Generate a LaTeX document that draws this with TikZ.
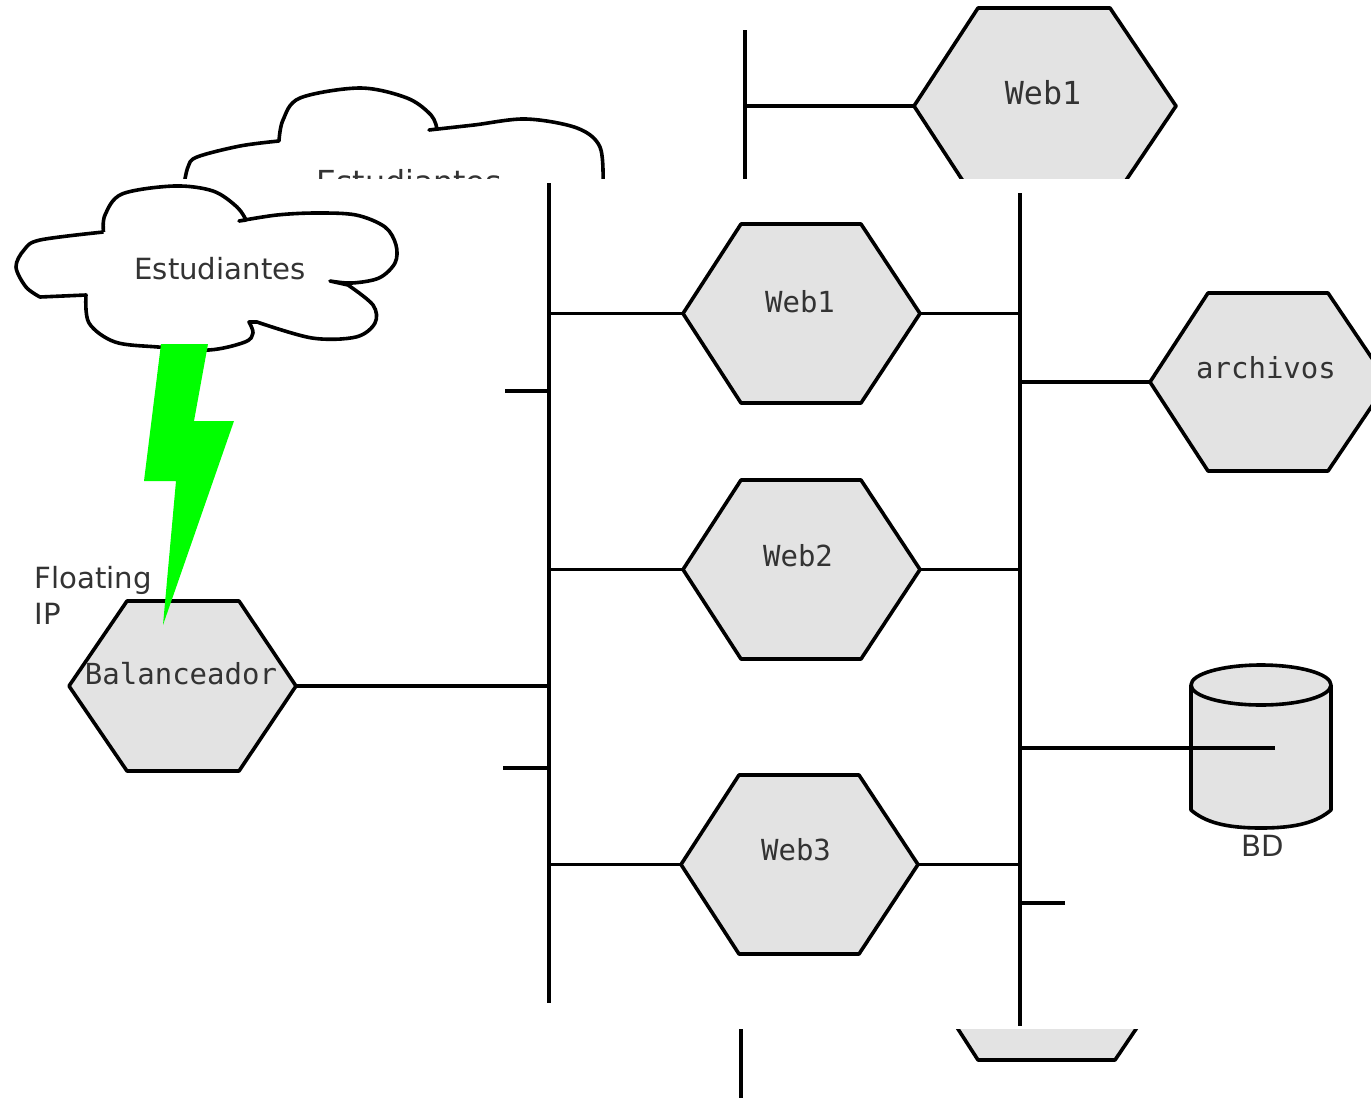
\documentclass[tikz,border=0pt]{standalone}
\usepackage{fontspec}
\setmainfont{DejaVu Sans}
\newfontfamily\monof{DejaVu Sans Mono}
\definecolor{hexgrey}{HTML}{E3E3E3}
\definecolor{txt}{HTML}{333333}
\tikzset{
  line/.style={line width=3.6pt,draw=black,line cap=butt,line join=miter},
  thin outline/.style={line width=3.6pt,draw=black,line join=round},
  shapefill/.style={line width=3.6pt,draw=black,fill=hexgrey,line join=round},
  label sans/.style={inner sep=0pt,text=txt,font=\fontsize{29.2}{36}\selectfont},
  label mono/.style={inner sep=0pt,text=txt,font=\monof\fontsize{29}{36}\selectfont},
}
% name, left vertex, flat left, flat right, right vertex, top, bottom
\newcommand{\hexa}[7]{%
  \coordinate (#1-w) at (#2,{(#6+#7)/2});
  \coordinate (#1-e) at (#5,{(#6+#7)/2});
  \path[shapefill] (#1-w) -- (#3,#6) -- (#4,#6) -- (#1-e) -- (#4,#7) -- (#3,#7) -- cycle;
}
\begin{document}
\begin{tikzpicture}[x=1pt,y=-1pt]
\clip (0,0) rectangle (1371,1098);
\useasboundingbox (0,0) rectangle (1371,1098);
\fill[white] (0,0) rectangle (1371,1098);
% --- back layer ---
\draw[thin outline,fill=white] plot[smooth,tension=.55] coordinates {(184,185) (188,167) (197,157) (240,146) (279,141)}
  -- plot[smooth,tension=.55] coordinates {(279,141) (283,120) (300,98) (360,88) (407,98) (431,115) (437,129)}
  -- (429,130)
  -- plot[smooth,tension=.55] coordinates {(429,130) (474,125) (526,119) (577,128) (600,147) (603,185)};
\node[label sans,font=\fontsize{31.7}{36}\selectfont] (backcloudlabel) at (409,182) {Estudiantes};
\coordinate (backbustop) at (745,30);
\coordinate (backbusbot) at (745,185);
\draw[line] (backbustop) -- (backbusbot);
\hexa{backweb}{914}{978}{1110}{1176}{8}{204}
\draw[line] (backweb-w) -- (backweb-w -| backbustop);
\node[label mono,font=\monof\fontsize{31.7}{36}\selectfont] (backweblabel) at (1043,93) {Web1};
\hexa{backwebb}{938}{978}{1115}{1157}{936}{1060}
\coordinate (backbusbtop) at (741,1020);
\coordinate (backbusbbot) at (741,1098);
\draw[line] (backbusbtop) -- (backbusbbot);
% --- front sheet ---
\fill[white] (0,179) rectangle (1371,1029);
% --- buses ---
\coordinate (busa) at (549,183);
\coordinate (busaend) at (549,1003);
\coordinate (busb) at (1020,193);
\coordinate (busbend) at (1020,1026);
\draw[line] (busa) -- (busaend);
\draw[line] (busb) -- (busbend);
% --- servers ---
\hexa{web1}{683}{741}{861}{920}{224}{403}
\hexa{web2}{683}{741}{861}{920}{480}{659}
\hexa{web3}{681}{739}{859}{918}{775}{954}
\hexa{arch}{1150}{1208}{1328}{1388}{293}{471}
\hexa{bal}{69}{127}{239}{296}{601}{771}
\node[label mono] (web1label) at (800,302) {Web1};
\node[label mono] (web2label) at (798,555.5) {Web2};
\node[label mono] (web3label) at (796,850) {Web3};
\node[label mono] (archlabel) at (1266,368) {archivos};
\node[label mono] (ballabel) at (181,674) {Balanceador};
\foreach \n in {web1,web2,web3}{
  \draw[line] (\n-w) -- (\n-w -| busa);
  \draw[line] (\n-e) -- (\n-e -| busb);
}
\draw[line] (arch-w) -- (arch-w -| busb);
\draw[line] (bal-e) -- (bal-e -| busa);
% --- stubs ---
\coordinate (stuba) at (505,391);
\coordinate (stubb) at (503,768);
\coordinate (stubc) at (1065,903);
\draw[line] (stuba) -- (stuba -| busa);
\draw[line] (stubb) -- (stubb -| busa);
\draw[line] (stubc) -- (stubc -| busb);
% --- database ---
\path[shapefill] (1191,685) -- (1191,810) .. controls (1205,822) and (1225,828) .. (1261,828)
  .. controls (1297,828) and (1317,822) .. (1331,810) -- (1331,685);
\path[shapefill] (1261,685) ellipse [x radius=70,y radius=20];
\coordinate (dbin) at (1275,748);
\draw[line] (dbin) -- (dbin -| busb);
\node[label sans] (dblabel) at (1262.5,846) {BD};
% --- cloud ---
\draw[thin outline,fill=white] plot[smooth,tension=.55] coordinates {(103.5,232) (105,215) (122,194) (174,186) (213,191) (237,207) (246,220)}
  -- (239,221)
  -- plot[smooth,tension=.55] coordinates {(239,221) (277,215) (316,213) (356,215) (385,227) (396,245) (395,263) (379,278) (352,283) (330,281)}
  -- (348,285)
  -- plot[smooth,tension=.55] coordinates {(348,285) (373,305) (375,323) (356,337) (312,338) (257,322)}
  -- (249,322)
  -- plot[smooth,tension=.55] coordinates {(249,322) (253,333) (245,342) (209,350) (158,347) (115,342) (89,323) (86,295)}
  -- (40,297)
  -- plot[smooth,tension=.55] coordinates {(40,297) (26,287) (16,267) (24,250) (40,240) (103.5,232)};
\node[label sans] (cloudlabel) at (220,269) {Estudiantes};
% --- lightning ---
\fill[fill=green] (161,344) -- (208,344) -- (194,421) -- (234,421) -- (163,625) -- (176,481) -- (144,481) -- cycle;
% --- floating ip ---
\node[label sans,align=left,anchor=north west] (fip) at (34.5,566) {Floating\\IP};
\end{tikzpicture}
\end{document}
